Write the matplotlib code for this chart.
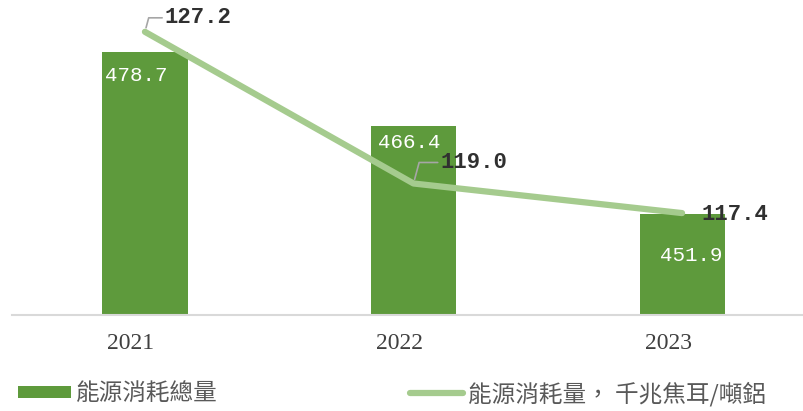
import matplotlib
matplotlib.use('Agg')
import matplotlib.pyplot as plt
import matplotlib.transforms as mtransforms
import numpy as np

# data
years = ['2021', '2022', '2023']
total_energy = [478.7, 466.4, 451.9]        # bars
energy_per_ton = [127.2, 119.0, 117.4]      # line
bar_label = '能源消耗總量'
line_label = '能源消耗量， 千兆焦耳/噸鋁'

BAR_C = '#5E9A3C'
LINE_C = '#A5CB8E'
TXT_C = '#404040'
CJK = ['Noto Sans CJK TC', 'DejaVu Sans']
NUM = 'Liberation Mono'

fig = plt.figure(figsize=(8.04, 4.11), dpi=100)
ax = fig.add_axes([12 / 804, 96 / 411, 792 / 804, 305 / 411])
ax2 = ax.twinx()

x = np.arange(len(years))
bars = ax.bar(x, total_energy, width=0.317, color=BAR_C, zorder=2)
line, = ax2.plot(x, energy_per_ton, color=LINE_C, lw=4.5,
                 solid_capstyle='round', solid_joinstyle='round', zorder=3)

ax.set_xlim(-0.495, 2.454)
ax.set_ylim(435.25, 485.65)
ax2.set_ylim(111.89, 128.38)

for a in (ax, ax2):
    for s in ['top', 'left', 'right']:
        a.spines[s].set_visible(False)
    a.set_yticks([])
ax2.spines['bottom'].set_visible(False)
ax.spines['bottom'].set_color('#D9D9D9')
ax.spines['bottom'].set_linewidth(1.5)

ax.set_xticks(x)
ax.set_xticklabels(years, family='Liberation Serif', fontsize=17, color=TXT_C)
ax.tick_params(axis='x', length=0, pad=13)
shift = mtransforms.ScaledTranslation(-14 / 100, 0, fig.dpi_scale_trans)
for lab in ax.get_xticklabels():
    lab.set_transform(lab.get_transform() + shift)

# bar value labels (white, inside top of bars), offsets in px
bar_offsets = [(-40, -23), (-36, -16), (-22, -41)]
for xi, v, (dx, dy) in zip(x, total_energy, bar_offsets):
    ax.annotate(f'{v:.1f}', (xi, v), xytext=(dx * 0.72, dy * 0.72),
                textcoords='offset points', ha='left', va='center',
                family=NUM, fontsize=15, color='white', zorder=4)

# line value labels with leader lines
line_offsets = [(20, 14), (27, 21), (19, -1)]
for i, (xi, v, (dx, dy)) in enumerate(zip(x, energy_per_ton, line_offsets)):
    arrow = None
    if i < 2:
        arrow = dict(arrowstyle='-', color='#A6A6A6', lw=1.2,
                     shrinkA=0, shrinkB=3, relpos=(0, 0.5),
                     connectionstyle='angle,angleA=0,angleB=75,rad=0')
    ax2.annotate(f'{v:.1f}', (xi, v), xytext=(dx * 0.72, dy * 0.72),
                 textcoords='offset points', ha='left', va='center',
                 family=NUM, fontsize=16, fontweight='bold', color='#303030',
                 zorder=5, arrowprops=arrow)

leg_kw = dict(frameon=False, loc='center left', handlelength=2.25,
              handletextpad=0.2, borderaxespad=0, borderpad=0,
              prop={'family': CJK, 'size': 17}, labelcolor='#595959')
leg1 = fig.legend([bars], [bar_label], bbox_to_anchor=(18 / 804, 1 - 394 / 411),
                  handleheight=0.45, **leg_kw)
leg2 = fig.legend([line], [line_label], bbox_to_anchor=(410 / 804, 1 - 394 / 411),
                  **leg_kw)

fig.savefig('out.png', dpi=100, facecolor='white')
